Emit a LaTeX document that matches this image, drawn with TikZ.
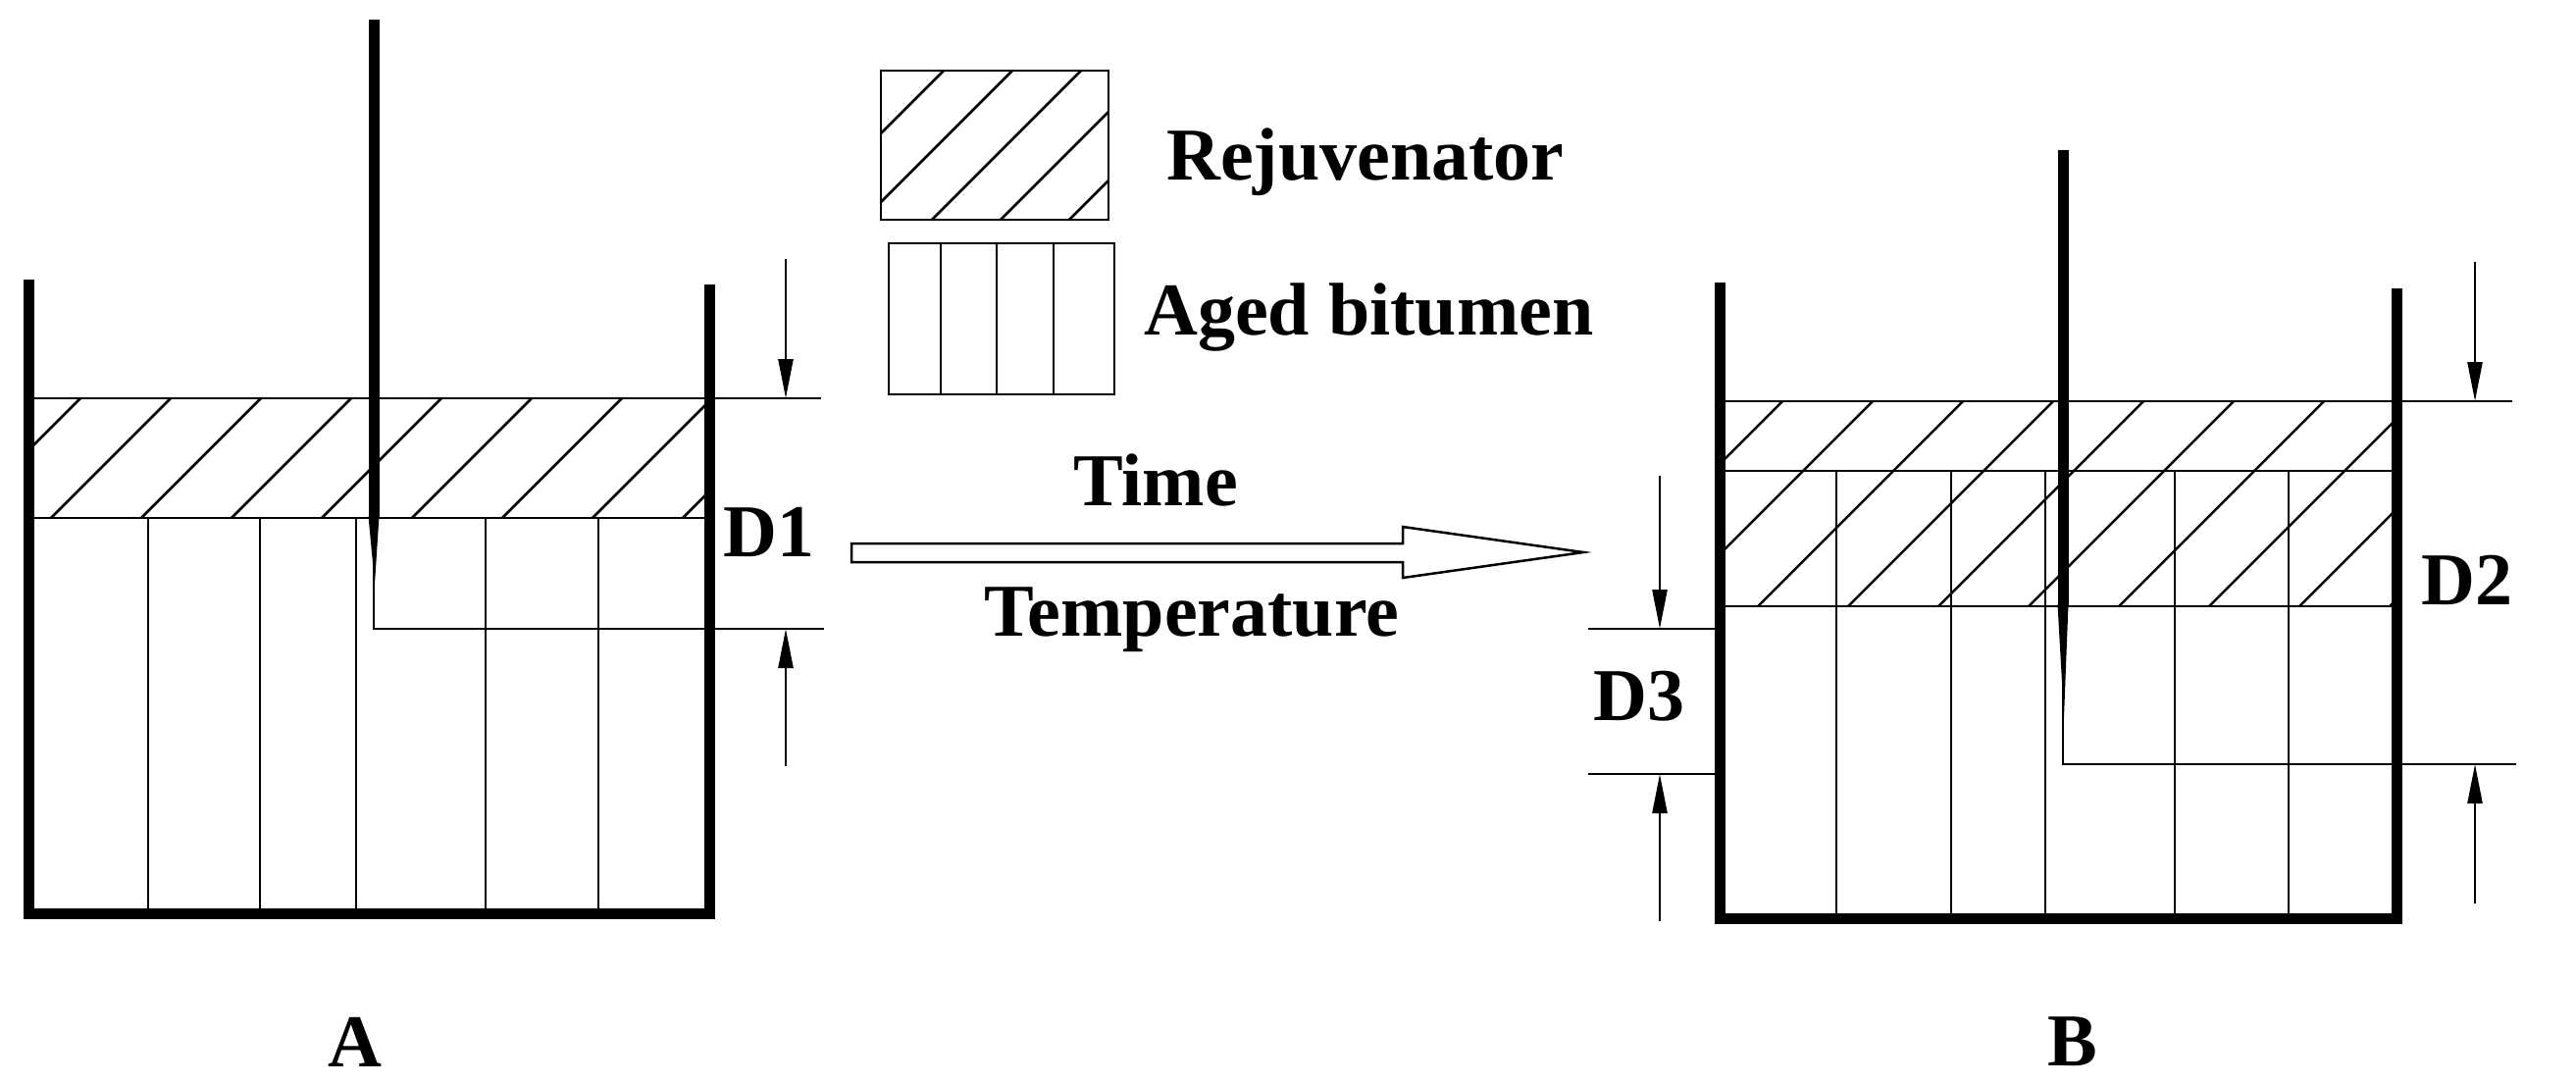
\documentclass[tikz,border=0pt]{standalone}
\usepackage{fontspec}
\setmainfont{Liberation Serif}
\usetikzlibrary{arrows.meta}
\begin{document}
\begin{tikzpicture}[x=1pt,y=-1pt,
  thin line/.style={line width=2.5pt},
  wall/.style={line width=11pt},
  dimarrow/.style={line width=2.5pt,-{Triangle[length=40pt,width=15pt]}},
  lbl/.style={font=\fontsize{76}{78}\selectfont\bfseries,inner sep=0pt}]
\useasboundingbox (0,0) rectangle (2626,1103);
% ---------- Container A ----------
\begin{scope}
\clip (29,406) rectangle (723,528);
\foreach \i in {-3,...,10} \draw[thin line] (\i*92-40,528) -- (\i*92+82,406);
\end{scope}
\draw[thin line] (29,406) -- (837,406);
\draw[thin line] (29,528) -- (723,528);
\foreach \x in {151,265,363,495,610} \draw[thin line] (\x,528) -- (\x,931);
\draw[thin line] (381,560) -- (381,641) -- (840,641);
\draw[wall] (381,20) -- (381,528);
\fill (375.5,526) -- (386.5,526) -- (382,595) -- cycle;
\draw[wall] (29,285) -- (29,931) -- (723,931) -- (723,290);
\coordinate (a1) at (801,264); \coordinate (a2) at (801,406);
\coordinate (a3) at (801,781); \coordinate (a4) at (801,641);
\draw[dimarrow] (a1) -- (a2);
\draw[dimarrow] (a3) -- (a4);
\node[lbl,anchor=west] (d1) at (737,542) {D1};
\node[lbl] (la) at (362,1062) {A};
% ---------- Legend ----------
\begin{scope}
\clip (898,72) rectangle (1130,224);
\foreach \i in {-2,...,4} \draw[thin line] (\i*70+880,224) -- (\i*70+1032,72);
\end{scope}
\draw[thin line] (898,72) rectangle (1130,224);
\draw[thin line] (906,248) rectangle (1136,402);
\foreach \x in {959,1016,1074} \draw[thin line] (\x,248) -- (\x,402);
\node[lbl,anchor=west] (rej) at (1189,165) {Rejuvenator};
\node[lbl,anchor=west] (aged) at (1166,324) {Aged bitumen};
% ---------- Process arrow ----------
\node[lbl] (time) at (1178,489) {Time};
\node[lbl] (temp) at (1215,632) {Temperature};
\draw[thin line,fill=white] (868,554) -- (1430,554) -- (1430,537) -- (1614,563)
  -- (1430,589) -- (1430,573) -- (868,573) -- cycle;
% ---------- Container B ----------
\begin{scope}
\clip (1753,409) rectangle (2443,618);
\foreach \i in {-4,...,10} \draw[thin line] (\i*92+1700,618) -- (\i*92+1909,409);
\end{scope}
\draw[thin line] (1753,409) -- (2561,409);
\draw[thin line] (1753,480) -- (2443,480);
\draw[thin line] (1753,618) -- (2443,618);
\foreach \x in {1872,1989,2085,2217,2333} \draw[thin line] (\x,480) -- (\x,936);
\draw[thin line] (2103,650) -- (2103,779) -- (2565,779);
\draw[wall] (2103,153) -- (2103,618);
\fill (2097.5,616) -- (2108.5,616) -- (2104,731) -- cycle;
\draw[wall] (1753,288) -- (1753,936) -- (2443,936) -- (2443,294);
\draw[thin line] (1619,641) -- (1748,641);
\draw[thin line] (1619,789) -- (1748,789);
\coordinate (b1) at (2523,267); \coordinate (b2) at (2523,409);
\coordinate (b3) at (2523,921); \coordinate (b4) at (2523,779);
\coordinate (c1) at (1692,485); \coordinate (c2) at (1692,641);
\coordinate (c3) at (1692,939); \coordinate (c4) at (1692,789);
\draw[dimarrow] (b1) -- (b2);
\draw[dimarrow] (b3) -- (b4);
\draw[dimarrow] (c1) -- (c2);
\draw[dimarrow] (c3) -- (c4);
\node[lbl,anchor=west] (d2) at (2468,591) {D2};
\node[lbl] (d3) at (1671,710) {D3};
\node[lbl] (lb) at (2113,1062) {B};
\end{tikzpicture}
\end{document}
